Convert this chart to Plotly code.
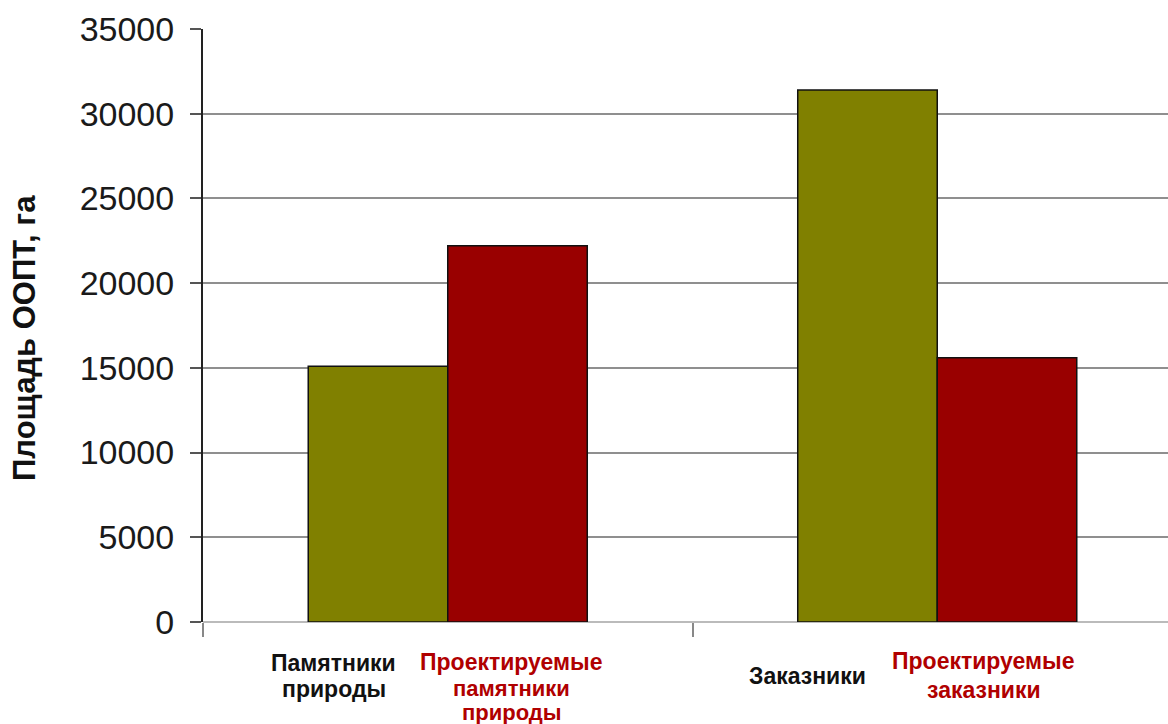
import plotly.graph_objects as go

# Площади ООПТ (га): существующие и проектируемые
groups = [0, 1]  # 0 — памятники природы, 1 — заказники
existing = [15100, 31400]
projected = [22200, 15600]

y_ticks = [0, 5000, 10000, 15000, 20000, 25000, 30000, 35000]

# Подписи под столбцами построчно: текст, цвет, x (в единицах категорий),
# сдвиг центра строки вниз от нулевой линии (px), размер шрифта
BLACK_TXT = "#111111"
RED_TXT = "#b00000"
label_lines = [
    ("Памятники", BLACK_TXT, -0.233, 41, 23),
    ("природы", BLACK_TXT, -0.233, 67, 23),
    ("Проектируемые", RED_TXT, 0.131, 40, 23),
    ("памятники", RED_TXT, 0.131, 66, 22),
    ("природы", RED_TXT, 0.131, 90, 22),
    ("Заказники", BLACK_TXT, 0.7355, 54, 23),
    ("Проектируемые", RED_TXT, 1.095, 39, 23),
    ("заказники", RED_TXT, 1.095, 68, 23),
]

OLIVE = "#808000"
DARK_RED = "#990000"
FONT = "Liberation Sans, Arial"

fig = go.Figure()
fig.add_trace(go.Bar(
    x=groups, y=existing, marker=dict(color=OLIVE, line=dict(color="#111111", width=1.5)),
    showlegend=False,
))
fig.add_trace(go.Bar(
    x=groups, y=projected, marker=dict(color=DARK_RED, line=dict(color="#111111", width=1.5)),
    showlegend=False,
))

annotations = [
    dict(text="<b>" + t + "</b>", x=x, y=0, yshift=-dy, xref="x", yref="paper",
         showarrow=False, xanchor="center", yanchor="middle",
         font=dict(family=FONT, size=s, color=c))
    for t, c, x, dy, s in label_lines
]
annotations.append(dict(
    text="<b>Площадь ООПТ, га</b>", textangle=-90, x=-0.1845, y=0.479,
    xref="paper", yref="paper", showarrow=False, xanchor="center", yanchor="middle",
    font=dict(family=FONT, size=31, color="#111111"),
))

fig.update_layout(
    width=1168, height=724,
    margin=dict(l=203, r=0, t=29, b=102),
    paper_bgcolor="white", plot_bgcolor="white",
    barmode="group", bargap=0.43, bargroupgap=0,
    annotations=annotations,
    xaxis=dict(
        range=[-0.5, -0.5 + 965 / 489.5], tickvals=[-0.5, 0.5], ticktext=["", ""],
        ticks="outside", ticklen=14, tickcolor="#888888", tickwidth=1.5,
        showgrid=False, zeroline=False, showline=False,
    ),
    yaxis=dict(
        range=[0, 35000], tickvals=y_ticks, tickformat="d", ticks="outside", ticklen=11,
        tickcolor="#555555", tickwidth=1.5, ticklabelstandoff=9,
        tickfont=dict(family=FONT, size=34, color="#1a1a1a"),
        showgrid=True, gridcolor="#8f8f8f", gridwidth=1.5,
        showline=True, linecolor="#222222", linewidth=2, zeroline=True,
        zerolinecolor="#bbbbbb", zerolinewidth=1.5,
    ),
)

fig.write_html("out.html")
